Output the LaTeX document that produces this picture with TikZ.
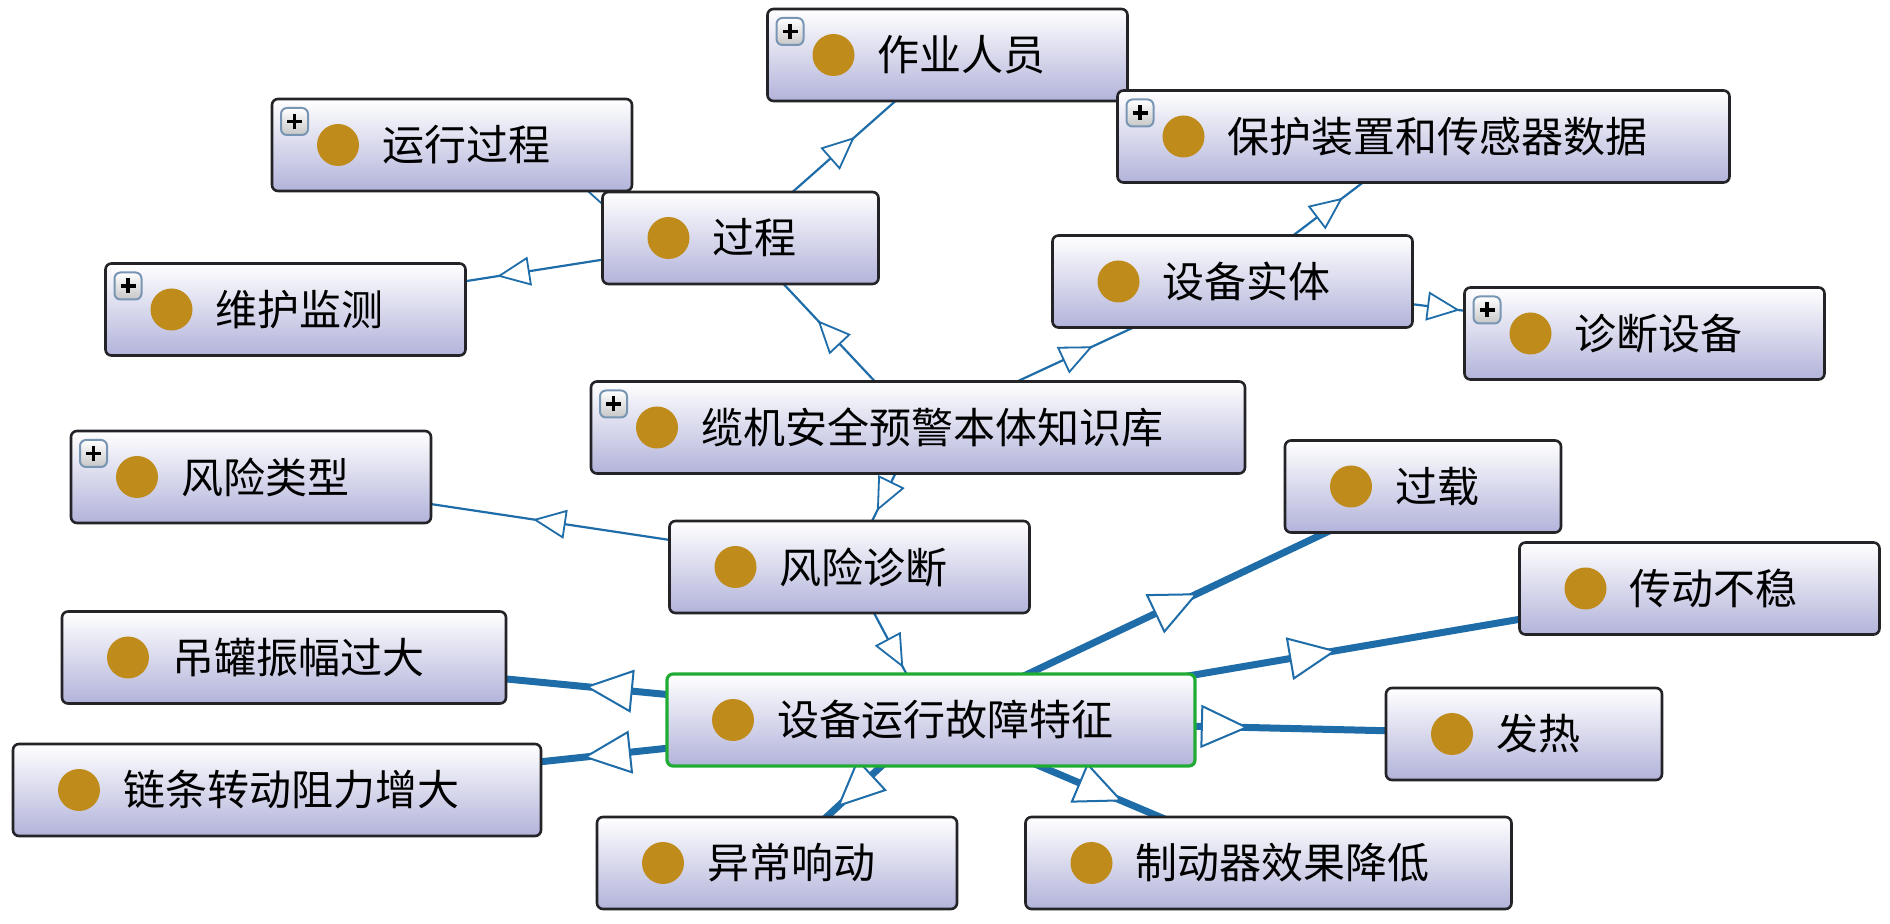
\documentclass[tikz,border=0pt]{standalone}
\usepackage{fontspec}
\newfontfamily\cjkfont{Noto Sans CJK SC}
\usetikzlibrary{arrows.meta,decorations.markings,backgrounds}
\definecolor{edgeblue}{RGB}{30,108,168}
\definecolor{boxlav}{RGB}{178,179,218}
\definecolor{boxedge}{RGB}{35,35,40}
\definecolor{dotcol}{RGB}{191,139,26}
\definecolor{focusgreen}{RGB}{32,172,52}
\definecolor{plusedge}{RGB}{120,150,180}
\newcommand{\dotmark}{\fill[dotcol] ([xshift=33pt]path picture bounding box.west) circle (10.5pt);}
\newcommand{\plusmark}{%
  \draw[plusedge, line width=1pt, top color=white, bottom color=black!22]
    ([xshift=4.5pt,yshift=-4.5pt]path picture bounding box.north west) rectangle ++(13.5pt,-13.5pt);
  \draw[black, line width=1.7pt]
    ([xshift=7.5pt,yshift=-11.25pt]path picture bounding box.north west) -- ++(7.5pt,0pt)
    ([xshift=11.25pt,yshift=-7.5pt]path picture bounding box.north west) -- ++(0pt,-7.5pt);}
\tikzset{
  concept/.style={rectangle, rounded corners=3pt, draw=boxedge, line width=1.3pt,
                  top color=white, bottom color=boxlav, minimum height=46pt,
                  inner xsep=41pt, font=\cjkfont\fontsize{21pt}{25pt}\selectfont,
                  execute at begin node={\hspace*{14pt}}, path picture={\dotmark}},
  conceptmore/.style={concept, path picture={\dotmark\plusmark}},
  focus/.style={draw=focusgreen, line width=1.6pt},
  isa/.style={draw=edgeblue, line width=1.1pt,
              postaction={decorate, decoration={markings, mark=at position #1 with
                {\arrow{Triangle[length=16.5pt,width=14.5pt,line width=0.9pt,color=edgeblue,fill=white]}}}}},
  isabold/.style={draw=edgeblue, line width=3.5pt,
              postaction={decorate, decoration={markings, mark=at position #1 with
                {\arrow{Triangle[length=24pt,width=21.5pt,line width=1pt,color=edgeblue,fill=white]}}}}}
}

\begin{document}
\begin{tikzpicture}[x=0.5pt,y=-0.5pt]
\useasboundingbox (0,0) rectangle (1890,924);
% classes
\node[conceptmore] (worker)   at (947.5,55)     {作业人员};
\node[conceptmore] (runproc)  at (452,145)      {运行过程};
\node[conceptmore] (sensor)   at (1423.5,136.5) {保护装置和传感器数据};
\node[concept]     (proc)     at (740.5,238)    {过程};
\node[conceptmore] (maint)    at (285.5,309.5)  {维护监测};
\node[concept]     (equip)    at (1232.5,281.5) {设备实体};
\node[conceptmore] (diagdev)  at (1644.5,333.5) {诊断设备};
\node[conceptmore] (kb)       at (918,427.5)    {缆机安全预警本体知识库};
\node[conceptmore] (risktype) at (251,477)      {风险类型};
\node[concept]     (overload) at (1423,486.5)   {过载};
\node[concept]     (riskdiag) at (849.5,567)    {风险诊断};
\node[concept]     (unstable) at (1699.5,588.5) {传动不稳};
\node[concept]     (bucket)   at (284,657.5)    {吊罐振幅过大};
\node[concept,focus] (fault)  at (931,720)      {设备运行故障特征};
\node[concept]     (heat)     at (1524,734)     {发热};
\node[concept]     (chain)    at (277,790)      {链条转动阻力增大};
\node[concept]     (noise)    at (777,863)      {异常响动};
\node[concept]     (brake)    at (1268.5,863)   {制动器效果降低};
% subclass links
\begin{scope}[on background layer]
\draw[isa=0.567] (kb.center) -- (proc.center);
\draw[isa=0.552] (proc.center) -- (worker.center);
\draw[isa=0.55]  (proc.center) -- (runproc.center);
\draw[isa=0.535] (proc.center) -- (maint.center);
\draw[isa=0.556] (kb.center) -- (equip.center);
\draw[isa=0.579] (equip.center) -- (sensor.center);
\draw[isa=0.552] (equip.center) -- (diagdev.center);
\draw[isa=0.6]   (kb.center) -- (riskdiag.center);
\draw[isa=0.529] (riskdiag.center) -- (risktype.center);
\draw[isa=0.66]  (riskdiag.center) -- (fault.center);
\draw[isabold=0.543] (fault.center) -- (overload.center);
\draw[isabold=0.528] (fault.center) -- (unstable.center);
\draw[isabold=0.536] (fault.center) -- (heat.center);
\draw[isabold=0.535] (fault.center) -- (bucket.center);
\draw[isabold=0.532] (fault.center) -- (chain.center);
\draw[isabold=0.61]  (fault.center) -- (noise.center);
\draw[isabold=0.569] (fault.center) -- (brake.center);
\end{scope}
\end{tikzpicture}
\end{document}
